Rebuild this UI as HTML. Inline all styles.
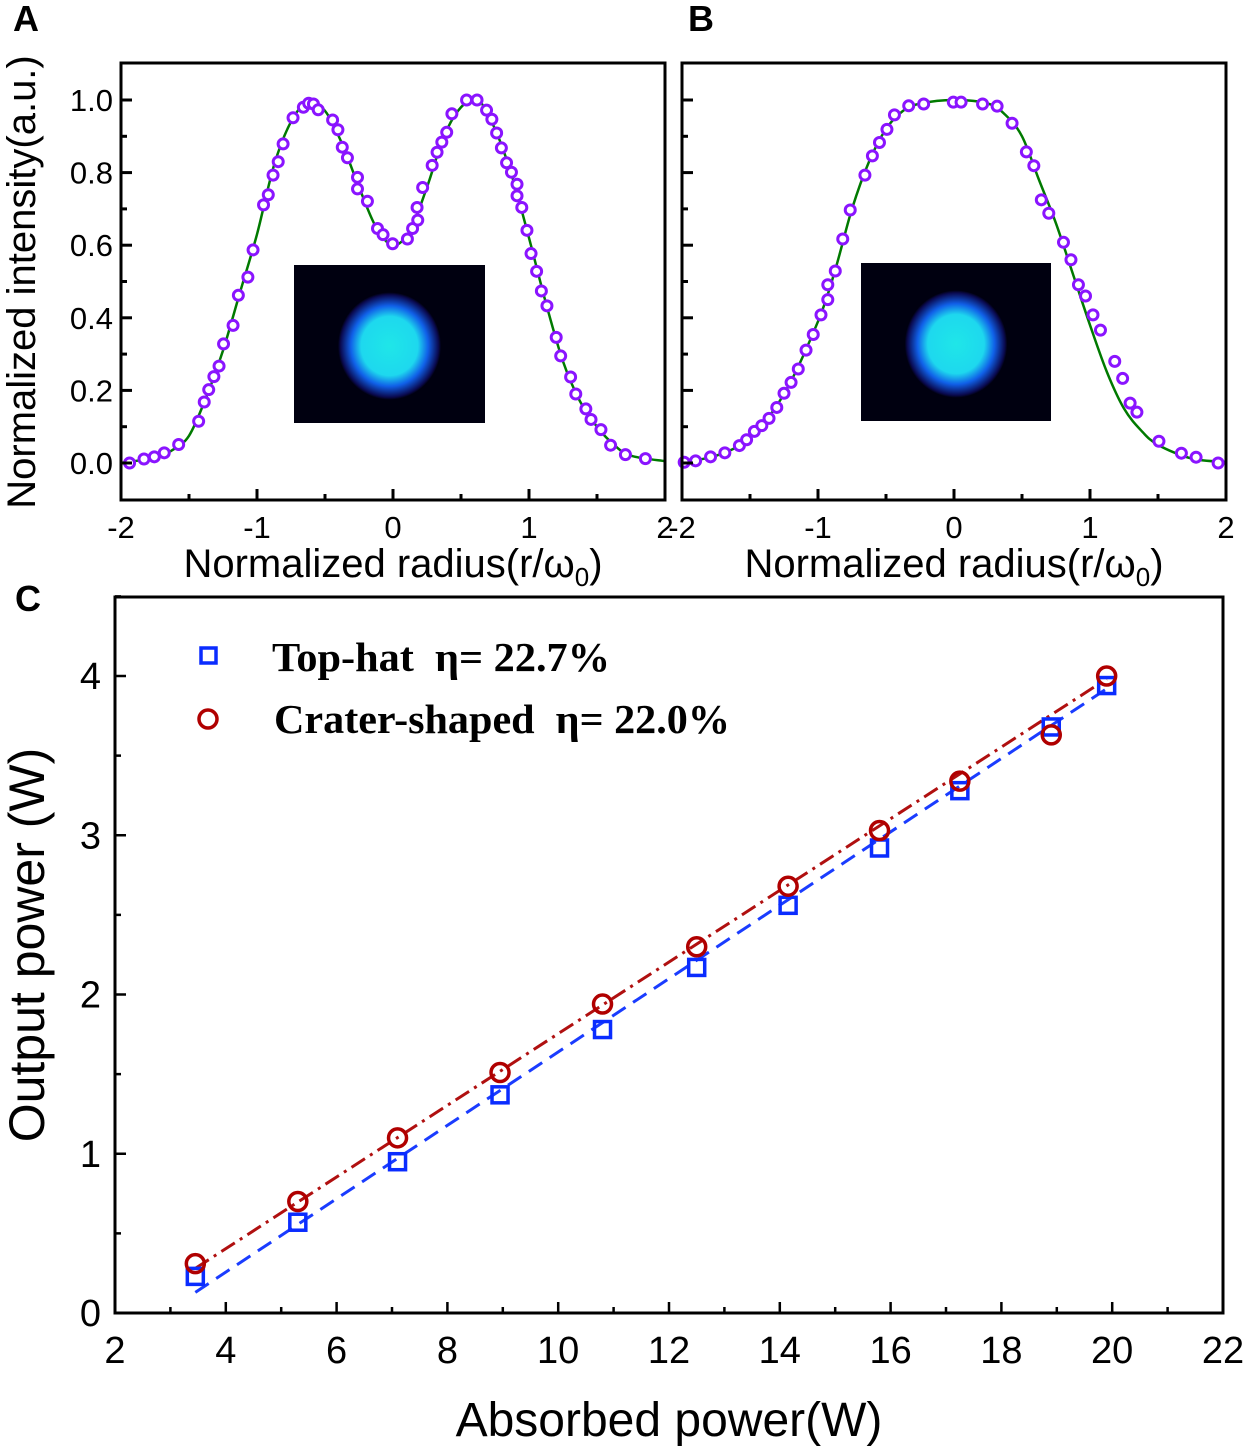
<!DOCTYPE html>
<html><head><meta charset="utf-8"><style>
html,body{margin:0;padding:0;background:#fff;}
svg{display:block;font-family:"Liberation Sans",Arial,sans-serif;}
.pre{white-space:pre;}
</style></head><body>
<svg id="fig" width="1250" height="1450" viewBox="0 0 1250 1450" xmlns="http://www.w3.org/2000/svg">
<defs>
<radialGradient id="beamA" cx="50%" cy="50%" r="50%">
<stop offset="0" stop-color="#1fe6e8"/><stop offset="0.55" stop-color="#1ed8ee"/><stop offset="0.75" stop-color="#1060e8"/><stop offset="0.95" stop-color="#0a0a50"/><stop offset="1" stop-color="#000010"/>
</radialGradient>
</defs>
<g id="root"></g>
</svg>
<script>
// Panel A data
const aPtsX=[-1.937,-1.831,-1.755,-1.682,-1.576,-1.429,-1.388,-1.355,-1.317,-1.279,-1.246,-1.176,-1.137,-1.067,-1.029,-0.952,-0.917,-0.882,-0.844,-0.808,-0.735,-0.659,-0.620,-0.585,-0.550,-0.444,-0.405,-0.373,-0.335,-0.261,-0.261,-0.188,-0.114,-0.073,-0.003,0.106,0.144,0.182,0.177,0.218,0.288,0.324,0.359,0.395,0.433,0.541,0.618,0.688,0.727,0.762,0.797,0.835,0.871,0.912,0.912,0.947,0.985,1.015,1.056,1.091,1.132,1.2,1.233,1.306,1.344,1.418,1.456,1.529,1.6,1.709,1.856];
const aPtsY=[0,0.011,0.017,0.028,0.051,0.115,0.168,0.202,0.238,0.267,0.328,0.379,0.462,0.512,0.587,0.711,0.739,0.793,0.830,0.879,0.951,0.980,0.991,0.989,0.973,0.945,0.918,0.870,0.841,0.787,0.755,0.721,0.646,0.629,0.604,0.617,0.646,0.669,0.704,0.759,0.820,0.856,0.884,0.911,0.962,1.0,1.0,0.972,0.947,0.909,0.868,0.827,0.801,0.768,0.736,0.704,0.641,0.577,0.528,0.474,0.433,0.346,0.295,0.237,0.190,0.149,0.120,0.092,0.049,0.023,0.012];
const aFitX=[-2,-1.75,-1.625,-1.5,-1.375,-1.25,-1.125,-1.0,-0.875,-0.75,-0.625,-0.5,-0.375,-0.25,-0.125,0,0.125,0.25,0.375,0.5,0.625,0.75,0.875,1.0,1.125,1.25,1.375,1.5,1.625,1.75,2];
const aFitY=[0.0,0.015,0.035,0.075,0.18,0.31,0.47,0.63,0.82,0.94,0.995,0.97,0.88,0.76,0.65,0.6,0.64,0.76,0.9,0.98,1.0,0.92,0.79,0.62,0.44,0.28,0.17,0.1,0.05,0.02,0.005];
// Panel B data
const bPtsX=[-1.984,-1.9,-1.79,-1.685,-1.578,-1.525,-1.468,-1.413,-1.36,-1.303,-1.25,-1.198,-1.145,-1.088,-1.035,-0.978,-0.928,-0.928,-0.873,-0.818,-0.763,-0.655,-0.6,-0.548,-0.493,-0.438,-0.333,-0.223,-0.005,0.052,0.21,0.317,0.427,0.532,0.587,0.642,0.697,0.805,0.86,0.915,0.967,1.022,1.077,1.182,1.24,1.295,1.345,1.507,1.672,1.78,1.942];
const bPtsY=[0.002,0.006,0.017,0.028,0.048,0.064,0.087,0.103,0.123,0.153,0.192,0.222,0.259,0.311,0.354,0.408,0.45,0.491,0.529,0.617,0.697,0.793,0.846,0.883,0.919,0.959,0.984,0.989,0.994,0.994,0.989,0.983,0.936,0.857,0.819,0.725,0.688,0.608,0.56,0.491,0.46,0.408,0.366,0.28,0.233,0.165,0.14,0.06,0.027,0.016,0.0];
const bFitX=[-2,-1.75,-1.5,-1.25,-1.0,-0.875,-0.75,-0.625,-0.5,-0.375,-0.25,0,0.25,0.375,0.5,0.625,0.75,0.875,1.0,1.125,1.25,1.375,1.5,1.75,2];
const bFitY=[0.003,0.02,0.07,0.19,0.39,0.53,0.7,0.83,0.92,0.97,0.99,1.0,0.99,0.96,0.9,0.78,0.66,0.52,0.38,0.25,0.15,0.09,0.05,0.012,0.003];
const radTicks=["-2","-1","0","1","2"];
const intTicks=["0.0","0.2","0.4","0.6","0.8","1.0"];
// Panel C data
const absPower=[3.45,5.3,7.1,8.95,10.8,12.5,14.15,15.8,17.25,18.9,19.9];
const topHat=[0.23,0.57,0.95,1.37,1.78,2.17,2.56,2.92,3.28,3.68,3.94];
const crater=[0.31,0.70,1.10,1.51,1.94,2.30,2.68,3.03,3.34,3.63,4.00];
const topFit=[0.2304,-0.665];
const craterFit=[0.225,-0.496];
const cXTicks=["2","4","6","8","10","12","14","16","18","20","22"];
const cYTicks=["0","1","2","3","4"];

const NS="http://www.w3.org/2000/svg";
const root=document.getElementById('root');
function mk(tag,attrs,parent){const e=document.createElementNS(NS,tag);for(const k in attrs)e.setAttribute(k,attrs[k]);(parent||root).appendChild(e);return e;}
function smooth(pts){let d="M"+pts[0][0]+","+pts[0][1];for(let i=0;i<pts.length-1;i++){const p0=pts[Math.max(i-1,0)],p1=pts[i],p2=pts[i+1],p3=pts[Math.min(i+2,pts.length-1)];const c1=[p1[0]+(p2[0]-p0[0])/6,p1[1]+(p2[1]-p0[1])/6],c2=[p2[0]-(p3[0]-p1[0])/6,p2[1]-(p3[1]-p1[1])/6];d+=" C"+c1[0]+","+c1[1]+" "+c2[0]+","+c2[1]+" "+p2[0]+","+p2[1];}return d;}

function profilePanel(id,L,R,T,B,ptsX,ptsY,fitX,fitY,inset,letter,lx,showY){
  const g=mk('g',{});
  
  
  const xs=v=>L+(v+2)/4*(R-L);
  const y0=463,y1=100;
  const ys=v=>y0-v*(y0-y1);
  const im=mk('rect',{x:inset[0],y:inset[1],width:inset[2],height:inset[3],fill:'#000010'},g);
  
  
  const beam=mk('ellipse',{cx:inset[0]+inset[2]/2,cy:inset[1]+inset[3]/2+2,rx:inset[2]*0.27,ry:inset[3]*0.34,fill:'url(#beamA)'},g);
  
  
  const fl=mk('path',{d:smooth(fitX.map((x,i)=>[xs(x),ys(fitY[i])])),fill:'none',stroke:'#007a00','stroke-width':2.5},g);
  
  
  ptsX.forEach((x,i)=>{const c=mk('circle',{cx:xs(x),cy:ys(ptsY[i]),r:5,fill:'#fff',stroke:'#8a14ff','stroke-width':3},g);
    
    });
  const fr=mk('rect',{x:L,y:T,width:R-L,height:B-T,fill:'none',stroke:'#000','stroke-width':3},g);
  
  
  for(let k=0;k<=8;k++){const v=-2+k*0.5,x=xs(v),len=k%2?6:11;mk('line',{x1:x,y1:B,x2:x,y2:B-len,stroke:'#000','stroke-width':3},g);}
  for(let k=0;k<=11;k++){const v=k*0.1,y=ys(v);if(y<T+2)continue;const len=k%2?6:11;mk('line',{x1:L,y1:y,x2:L+len,y2:y,stroke:'#000','stroke-width':3},g);}
  radTicks.forEach((t,i)=>{const tx=mk('text',{x:xs(-2+i),y:538,'font-size':31,'text-anchor':'middle'},g);tx.textContent=t;
    
    });
  if(showY){intTicks.forEach((t,i)=>{const tx=mk('text',{x:L-8,y:ys(i*0.2)+11,'font-size':31,'text-anchor':'end'},g);tx.textContent=t;
    
    });}
  const xt=mk('text',{x:(L+R)/2,y:577,'font-size':40,'text-anchor':'middle'},g);
  xt.innerHTML='Normalized radius(r/ω<tspan font-size="26" dy="9">0</tspan><tspan dy="-9">)</tspan>';
  
  
  const lt=mk('text',{x:lx,y:31,'font-size':36,'font-weight':'bold'},g);lt.textContent=letter;
  
  
}
profilePanel('panel-a',121,665,63,500,aPtsX,aPtsY,aFitX,aFitY,[294,265,191,158],'A',13,true);
profilePanel('panel-b',682,1226,63,500,bPtsX,bPtsY,bFitX,bFitY,[861,263,190,158],'B',688,false);
const yTitleA=mk('text',{x:0,y:0,'font-size':40,'text-anchor':'middle',transform:'translate(35,282) rotate(-90)'});
yTitleA.textContent='Normalized intensity(a.u.)';



// Panel C
(function(){
  const L=115,R=1223,T=597,B=1313;
  const g=mk('g',{});
  
  
  const xs=v=>L+(v-2)/20*(R-L);
  const ys=v=>B-v*159.25;
  const x0=absPower[0],x1=absPower[absPower.length-1];
  const l1=mk('line',{x1:xs(x0),y1:ys(topFit[0]*x0+topFit[1]),x2:xs(x1),y2:ys(topFit[0]*x1+topFit[1]),stroke:'#1a3cff','stroke-width':3,'stroke-dasharray':'16,9'},g);
  
  
  const l2=mk('line',{x1:xs(x0),y1:ys(craterFit[0]*x0+craterFit[1]),x2:xs(x1),y2:ys(craterFit[0]*x1+craterFit[1]),stroke:'#b01010','stroke-width':3,'stroke-dasharray':'16,6,3,6'},g);
  
  
  absPower.forEach((x,i)=>{
    const s=mk('rect',{x:xs(x)-8,y:ys(topHat[i])-8,width:16,height:16,fill:'none',stroke:'#0a2cff','stroke-width':3.5},g);
    
    
    const c=mk('circle',{cx:xs(x),cy:ys(crater[i]),r:9,fill:'none',stroke:'#b00000','stroke-width':3.5},g);
    
    
  });
  const fr=mk('rect',{x:L,y:T,width:R-L,height:B-T,fill:'none',stroke:'#000','stroke-width':3},g);
  
  
  for(let v=2;v<=22;v+=1){const len=v%2?6:11;mk('line',{x1:xs(v),y1:B,x2:xs(v),y2:B-len,stroke:'#000','stroke-width':2.5},g);}
  for(let k=0;k<=9;k++){const len=k%2?6:11;mk('line',{x1:L,y1:ys(k*0.5),x2:L+len,y2:ys(k*0.5),stroke:'#000','stroke-width':2.5},g);}
  cXTicks.forEach((t,i)=>{const tx=mk('text',{x:xs(2+2*i),y:1363,'font-size':38,'text-anchor':'middle'},g);tx.textContent=t;
    
    });
  cYTicks.forEach((t,i)=>{const tx=mk('text',{x:L-14,y:ys(i)+13,'font-size':38,'text-anchor':'end'},g);tx.textContent=t;
    
    });
  const xt=mk('text',{x:669,y:1436,'font-size':48,'text-anchor':'middle'},g);xt.textContent='Absorbed power(W)';
  
  
  const yt=mk('text',{x:0,y:0,'font-size':50,'text-anchor':'middle',transform:'translate(44,945) rotate(-90)'},g);yt.textContent='Output power (W)';
  
  
  const lb=mk('text',{x:15,y:611,'font-size':36,'font-weight':'bold'},g);lb.textContent='C';
  
  
  const lg=mk('g',{},g);
  
  
  const ls=mk('rect',{x:201,y:648,width:15,height:15,fill:'none',stroke:'#0a2cff','stroke-width':3.5},lg);
  
  
  const lc=mk('circle',{cx:208,cy:719,r:9,fill:'none',stroke:'#b00000','stroke-width':3.5},lg);
  
  
  const t1=mk('text',{x:272,y:671,'font-size':41,'font-weight':'bold','font-family':'"Liberation Serif",serif','class':'pre',textLength:338,lengthAdjust:'spacingAndGlyphs'},lg);t1.textContent='Top-hat  η= 22.7%';
  
  
  const t2=mk('text',{x:274,y:733,'font-size':41,'font-weight':'bold','font-family':'"Liberation Serif",serif','class':'pre',textLength:456,lengthAdjust:'spacingAndGlyphs'},lg);t2.textContent='Crater-shaped  η= 22.0%';
  
  
})();
</script>
</body></html>
